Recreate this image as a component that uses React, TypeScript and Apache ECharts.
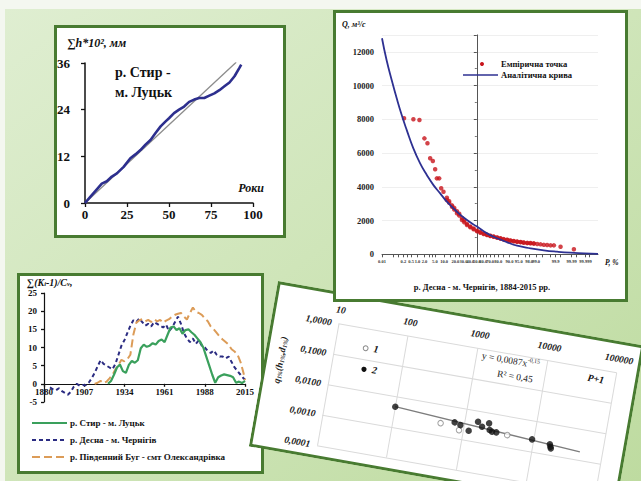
import React, { useEffect, useRef } from "react";
import * as echarts from "echarts";

const SERIF = "'Liberation Serif', 'Times New Roman', serif";
const BORDER = "#487b31";

// ---------- Top-left panel: cumulative runoff, р. Стир - м. Луцьк ----------
const TL_YEARS = [0, 3, 6, 10, 13, 16, 19, 23, 27, 30, 33, 36, 39, 42, 45, 48, 50, 53, 56, 59, 62, 65, 68, 71, 74, 77, 80, 83, 86, 89, 92, 93];
const TL_SUM = [0, 1.5, 3.0, 5.0, 5.6, 6.8, 7.6, 9.3, 11.5, 12.5, 13.6, 15.0, 16.2, 18.0, 19.7, 21.0, 21.8, 23.1, 24.0, 24.8, 26.0, 26.6, 27.0, 27.0, 27.6, 28.2, 29.0, 30.0, 31.0, 32.6, 34.8, 35.6];
const TL_TREND_X = [0, 90];
const TL_TREND_Y = [0, 36.2];

// ---------- Bottom-left panel: difference integral curves ----------
const STYR_YEARS = [1923, 1925, 1927, 1929, 1931, 1933, 1935, 1937, 1939, 1941, 1943, 1945, 1947, 1949, 1951, 1953, 1955, 1957, 1959, 1961, 1963, 1965, 1967, 1969, 1971, 1973, 1975, 1977, 1979, 1981, 1983, 1985, 1987, 1989, 1991, 1993, 1995, 1997, 1999, 2001, 2003, 2005, 2007, 2009, 2011, 2013, 2015];
const STYR_VALUES = [0, 0.8, 2.5, 4.5, 5.3, 3.5, 3.0, 5.2, 6.3, 5.8, 6.5, 9.8, 10.8, 10.2, 10.5, 11.2, 10.8, 11.8, 12.2, 11.5, 13.5, 15.5, 15.8, 14.8, 15.3, 13.8, 14.8, 15.0, 14.2, 13.5, 12.5, 11.5, 10.0, 7.5, 5.0, 2.5, 0.3, 1.8, 2.3, 2.6, 2.4, 2.2, 1.8, 0.3, 0.6, 0.2, 0.8];
const DESNA_YEARS = [1884, 1886, 1888, 1890, 1892, 1894, 1896, 1898, 1900, 1902, 1904, 1906, 1908, 1910, 1912, 1914, 1916, 1918, 1920, 1922, 1924, 1926, 1928, 1930, 1932, 1934, 1936, 1938, 1940, 1942, 1944, 1946, 1948, 1950, 1952, 1954, 1956, 1958, 1960, 1962, 1964, 1966, 1968, 1970, 1972, 1974, 1976, 1978, 1980, 1982, 1984, 1986, 1988, 1990, 1992, 1994, 1996, 1998, 2000, 2002, 2004, 2006, 2008, 2010, 2012, 2014, 2015];
const DESNA_VALUES = [-1.0, -1.5, -1.8, -1.2, -2.0, -2.5, -3.0, -2.2, -0.8, 0.0, -0.5, -0.3, -0.4, 0.3, 1.5, 3.0, 4.8, 6.5, 5.5, 5.0, 4.5, 4.0, 5.5, 8.0, 10.5, 12.0, 14.0, 16.0, 17.5, 17.0, 18.0, 17.0, 16.0, 16.5, 15.8, 17.0, 16.5, 16.0, 15.5, 16.3, 14.5, 15.5, 17.0, 18.5, 16.5, 14.0, 12.5, 11.5, 12.5, 11.0, 12.0, 10.5, 10.0, 9.0, 8.5, 9.2, 8.0, 7.5, 7.5, 7.0, 7.5, 6.0, 4.5, 3.5, 2.5, 1.5, 1.2];
const BUG_YEARS = [1914, 1916, 1918, 1920, 1922, 1924, 1926, 1928, 1930, 1932, 1934, 1936, 1938, 1940, 1942, 1944, 1946, 1948, 1950, 1952, 1954, 1956, 1958, 1960, 1962, 1964, 1966, 1968, 1970, 1972, 1974, 1976, 1978, 1980, 1982, 1984, 1986, 1988, 1990, 1992, 1994, 1996, 1998, 2000, 2002, 2004, 2006, 2008, 2010, 2012, 2014, 2015];
const BUG_VALUES = [0.0, 0.3, 0.8, 0.2, 0.6, 1.5, 2.5, 4.0, 5.2, 6.6, 6.2, 6.8, 8.0, 13.5, 16.8, 17.5, 17.8, 17.2, 17.6, 17.0, 17.8, 17.2, 17.6, 16.8, 17.4, 17.8, 18.5, 19.0, 19.3, 19.5, 18.5, 17.7, 19.5, 21.0, 19.8, 19.5, 19.0, 18.0, 17.2, 15.8, 15.0, 14.0, 13.0, 12.2, 11.5, 10.8, 9.5, 8.9, 8.0, 6.0, 3.0, 1.0];
const BL_NAMES = ["р. Стир - м. Луцьк", "р. Десна - м. Чернігів", "р. Південний Буг - смт Олександрівка"];
const BL_COLORS = ["#3aa05c", "#2b2c82", "#dc9c58"];

// ---------- Rotated panel: q1% vs P+1 (log-log) ----------
const Q_FILLED_X = [99, 728, 889, 1197, 1538, 1799, 2213, 2339, 2552, 2938, 9640, 17500, 18100, 18500];
const Q_FILLED_Y = [0.0047, 0.00321, 0.00283, 0.00207, 0.00453, 0.00331, 0.00467, 0.00287, 0.00262, 0.00264, 0.00251, 0.00222, 0.00185, 0.00165];
const Q_OPEN_X = [466, 875, 4230];
const Q_OPEN_Y = [0.00253, 0.00192, 0.00249];
const Q_FIT_X = [99, 47900];
const Q_FIT_Y = [0.0047, 0.00187];

// ---------- Top-right panel: Desna exceedance curve ----------
const EMP_P = [0.216, 0.642, 1.22, 1.99, 2.64, 3.36, 4.23, 5.11, 5.86, 6.99, 8.11, 9.56,
  12.0, 12.0, 13.9, 13.9, 16.5, 16.5, 18.8, 18.8, 21.8, 21.8, 24.5, 24.5, 28.0, 28.0, 31.1, 31.1, 35.0, 35.0, 39.9, 39.9,
  45.0, 45.0, 50.3, 50.3, 55.5, 55.5, 60.6, 60.6, 65.6, 65.6, 70.2, 70.2, 74.6, 74.6, 78.7, 78.7, 82.3, 82.3, 85.4, 85.4,
  88.3, 88.3, 90.6, 90.6, 92.6, 92.6, 94.3, 94.3, 95.7, 95.7, 96.7, 96.7, 97.6, 97.6, 98.24, 98.24, 98.73, 98.73,
  99.11, 99.38, 99.57, 99.71, 99.81, 99.875, 99.949, 99.993];
const EMP_Q = [8060, 8000, 7960, 6870, 6580, 5690, 5530, 5040, 4500, 4500, 3910, 3710,
  3220, 3350, 3050, 3150, 2820, 2900, 2650, 2750, 2430, 2550, 2300, 2400, 2030, 2150, 1900, 2000, 1740, 1800, 1600, 1650,
  1480, 1530, 1360, 1400, 1280, 1320, 1200, 1230, 1140, 1160, 1080, 1100, 1040, 1050, 980, 1000, 930, 950, 880, 900,
  850, 860, 800, 820, 770, 790, 740, 750, 720, 730, 690, 700, 660, 680, 650, 670, 630, 650,
  610, 590, 560, 550, 530, 530, 450, 300];
const CURVE_P = [0.01, 0.02, 0.042, 0.084, 0.161, 0.30, 0.64, 1.31, 2.49, 4.45, 7.54, 12.0, 21.8, 35.0, 50.3, 65.6, 78.7, 88.3, 94.3, 98.24, 99.57, 99.92, 99.988, 99.9987, 99.9999];
const CURVE_Q = [12800, 11510, 10330, 9240, 8250, 7360, 6280, 5390, 4700, 4100, 3610, 3120, 2520, 2030, 1640, 1240, 950, 710, 510, 355, 237, 154, 95, 59, 20];
const PROB_LABELS = [0.01, 0.2, 0.5, 1, 2, 5, 10, 20, 30, 40, 50, 60, 70, 80, 90, 95, 98, 99, 99.9, 99.99, 99.999];
const PROB_LABEL_TEXT = ["0.01", "0.2", "0.5", "1.0", "2.0", "5.0", "10.0", "20.0", "30.0", "40.0", "50.0", "60.0", "70.0", "80.0", "90.0", "95.0", "98.0", "99.0", "99.9", "99.99", "99.999"];
const PROB_MINOR = [0.05, 0.1, 0.3, 3, 4, 15, 25, 35, 45, 55, 65, 75, 85, 97, 99.5, 99.8, 99.95, 99.995, 99.9995];
const P_MIN = 0.01;
const P_MAX = 99.9999;

// inverse standard normal CDF (probability-paper axis transform)
function probit(p: number): number {
  const a = [-39.69683028665376, 220.9460984245205, -275.9285104469687, 138.357751867269, -30.66479806614716, 2.506628277459239];
  const b = [-54.47609879822406, 161.5858368580409, -155.6989798598866, 66.80131188771972, -13.28068155288572];
  const c = [-0.007784894002430293, -0.3223964580411365, -2.400758277161838, -2.549732539343734, 4.374664141464968, 2.938163982698783];
  const d = [0.007784695709041462, 0.3224671290700398, 2.445134137142996, 3.754408661907416];
  const pl = 0.02425;
  if (p < pl) {
    const q = Math.sqrt(-2 * Math.log(p));
    return (((((c[0] * q + c[1]) * q + c[2]) * q + c[3]) * q + c[4]) * q + c[5]) / ((((d[0] * q + d[1]) * q + d[2]) * q + d[3]) * q + 1);
  }
  if (p <= 1 - pl) {
    const q = p - 0.5;
    const r = q * q;
    return ((((((a[0] * r + a[1]) * r + a[2]) * r + a[3]) * r + a[4]) * r + a[5]) * q) / (((((b[0] * r + b[1]) * r + b[2]) * r + b[3]) * r + b[4]) * r + 1);
  }
  const q = Math.sqrt(-2 * Math.log(1 - p));
  return -(((((c[0] * q + c[1]) * q + c[2]) * q + c[3]) * q + c[4]) * q + c[5]) / ((((d[0] * q + d[1]) * q + d[2]) * q + d[3]) * q + 1);
}
const toZ = (pct: number) => probit(pct / 100);

const zip = (xs: number[], ys: number[]) => xs.map((x, i) => [x, ys[i]]);

function txt(x: number, y: number, text: string, o: any = {}, extra: any = {}) {
  return {
    type: "text",
    x,
    y,
    z: 20,
    ...extra,
    style: {
      text,
      fill: "#111",
      fontFamily: SERIF,
      fontSize: 10,
      fontWeight: "bold",
      align: "left",
      verticalAlign: "middle",
      ...o,
    },
  };
}

function optionA(): any {
  const axisLine = { show: true, onZero: false, lineStyle: { color: "#111", width: 1.5 } };
  const tick = { show: true, length: 4, lineStyle: { color: "#111", width: 1.3 } };
  return {
    animation: false,
    graphic: [
      { type: "rect", z: -30, shape: { x: 0, y: 0, width: 641, height: 481 }, style: { fill: "#f4f7f0" } },
      {
        type: "rect",
        z: -29,
        shape: { x: 5, y: 9, width: 636, height: 472 },
        style: {
          fill: new echarts.graphic.LinearGradient(0, 0, 1, 1, [
            { offset: 0, color: "#dfeed1" },
            { offset: 0.5, color: "#cfe5b9" },
            { offset: 1, color: "#bedba0" },
          ]),
        },
      },
      { type: "rect", z: -20, shape: { x: 55.5, y: 26.5, width: 229, height: 210 }, style: { fill: "#ffffff", stroke: BORDER, lineWidth: 3 } },
      { type: "rect", z: -20, shape: { x: 18.5, y: 274.5, width: 244, height: 198 }, style: { fill: "#ffffff", stroke: BORDER, lineWidth: 3 } },
      txt(67, 43, "∑h*10², мм", { fontSize: 12, fontStyle: "italic" }),
      txt(115, 72, "р. Стир -", { fontSize: 14 }),
      txt(115, 92, "м. Луцьк", { fontSize: 14 }),
      txt(264, 188, "Роки", { fontSize: 12, fontStyle: "italic", align: "right" }),
      txt(27, 281, "{a|∑(K}{s|i}{a|-1)/C}{s|v}{a|,}", {
        rich: {
          a: { fontFamily: SERIF, fontSize: 10, fontWeight: "bold", fontStyle: "italic", lineHeight: 12, verticalAlign: "bottom", fill: "#111" },
          s: { fontFamily: SERIF, fontSize: 6.5, fontWeight: "bold", fontStyle: "italic", lineHeight: 7, verticalAlign: "bottom", fill: "#111" },
        },
      }),
      ...BL_NAMES.flatMap((name, i) => {
        const y = 423 + i * 17;
        const dash = i === 0 ? undefined : i === 1 ? [4, 3] : [8, 4];
        return [
          { type: "line", z: 20, shape: { x1: 32, y1: y, x2: 67, y2: y }, style: { stroke: BL_COLORS[i], lineWidth: 2, lineDash: dash } },
          txt(70, y, name, { fontSize: 9 }),
        ];
      }),
    ],
    grid: [
      { left: 85, top: 63, width: 168, height: 140, show: false },
      { left: 44, top: 293, width: 201, height: 109, show: false },
    ],
    xAxis: [
      {
        gridIndex: 0, type: "value", min: 0, max: 100, interval: 25,
        axisLine, axisTick: tick, splitLine: { show: false },
        axisLabel: { fontFamily: SERIF, fontWeight: "bold", fontSize: 13, color: "#111", margin: 5, formatter: (v: number) => String(v) },
      },
      {
        gridIndex: 1, type: "value", min: 1880, max: 2015, interval: 27, offset: -18.2,
        axisLine: { ...axisLine, lineStyle: { color: "#111", width: 1.2 } }, axisTick: { ...tick, length: 3 }, splitLine: { show: false },
        axisLabel: { fontFamily: SERIF, fontWeight: "bold", fontSize: 9, color: "#111", margin: 4, formatter: (v: number) => String(v) },
      },
    ],
    yAxis: [
      {
        gridIndex: 0, type: "value", min: 0, max: 36, interval: 12,
        axisLine, axisTick: tick, splitLine: { show: false },
        axisLabel: { fontFamily: SERIF, fontWeight: "bold", fontSize: 13, color: "#111", margin: 15 },
      },
      {
        gridIndex: 1, type: "value", min: -5, max: 25, interval: 5,
        axisLine: { ...axisLine, lineStyle: { color: "#111", width: 1.2 } }, axisTick: { ...tick, length: 3 }, splitLine: { show: false },
        axisLabel: { fontFamily: SERIF, fontWeight: "bold", fontSize: 9, color: "#111", margin: 7 },
      },
    ],
    series: [
      { type: "line", xAxisIndex: 0, yAxisIndex: 0, data: zip(TL_TREND_X, TL_TREND_Y), symbol: "none", lineStyle: { color: "#8c8c8c", width: 1.3 } },
      { type: "line", xAxisIndex: 0, yAxisIndex: 0, data: zip(TL_YEARS, TL_SUM), symbol: "none", lineStyle: { color: "#2d2f8e", width: 2.6 } },
      { type: "line", name: BL_NAMES[1], xAxisIndex: 1, yAxisIndex: 1, data: zip(DESNA_YEARS, DESNA_VALUES), symbol: "none", lineStyle: { color: BL_COLORS[1], width: 2, type: [4, 3] } },
      { type: "line", name: BL_NAMES[2], xAxisIndex: 1, yAxisIndex: 1, data: zip(BUG_YEARS, BUG_VALUES), symbol: "none", lineStyle: { color: BL_COLORS[2], width: 2, type: [8, 4] } },
      { type: "line", name: BL_NAMES[0], xAxisIndex: 1, yAxisIndex: 1, data: zip(STYR_YEARS, STYR_VALUES), symbol: "none", lineStyle: { color: BL_COLORS[0], width: 2.2 } },
    ],
  };
}

const B_W = 372;
const B_H = 168;

function optionB(): any {
  const label = { fontFamily: SERIF, fontWeight: "bold", fontStyle: "italic", fontSize: 9.5, color: "#222" };
  const split = { show: true, lineStyle: { color: "#dadada", width: 1 } };
  return {
    animation: false,
    graphic: [
      { type: "rect", z: -20, shape: { x: 1.5, y: 1.5, width: B_W - 3, height: B_H - 3 }, style: { fill: "#ffffff", stroke: BORDER, lineWidth: 3 } },
      { type: "circle", z: 20, shape: { cx: 98, cy: 51, r: 2.4 }, style: { fill: "#fff", stroke: "#8a8a8a", lineWidth: 1 } },
      txt(106, 50, "1", { fontSize: 10, fontStyle: "italic" }),
      { type: "circle", z: 20, shape: { cx: 100, cy: 72, r: 2.6 }, style: { fill: "#111" } },
      txt(108, 71, "2", { fontSize: 10, fontStyle: "italic" }),
      txt(243, 37, "{n|y = 0,0087x}{p|-0,15}", {
        align: "center",
        rich: {
          n: { fontFamily: SERIF, fontSize: 9.5, fontWeight: "normal", lineHeight: 12, verticalAlign: "bottom", fill: "#222" },
          p: { fontFamily: SERIF, fontSize: 6, fontWeight: "normal", lineHeight: 6, verticalAlign: "top", fill: "#222" },
        },
      }),
      txt(250, 53, "R² = 0,45", { fontSize: 9.5, fontWeight: "normal", align: "center", fill: "#222" }),
      txt(330, 41, "P+1", { fontSize: 10, fontStyle: "italic", align: "center" }),
    ],
    grid: { left: 67, top: 31.7, width: 282.5, height: 123.3, show: false },
    xAxis: {
      type: "log", logBase: 10, min: 10, max: 100000, position: "top",
      axisLine: { show: false }, axisTick: { show: false }, splitLine: split,
      axisLabel: { ...label, margin: 9, formatter: (v: number) => String(Math.round(v)) },
    },
    yAxis: {
      type: "log", logBase: 10, min: 0.0001, max: 1,
      name: "{b|q}{s|1%}{b|(h}{s|1%}{b|,d}{s|1%}{b|)}",
      nameLocation: "middle",
      nameRotate: 90,
      nameGap: 46,
      nameTextStyle: {
        padding: [0, 0, 0, 32],
        rich: {
          b: { fontFamily: SERIF, fontSize: 9.5, fontWeight: "bold", fontStyle: "italic", lineHeight: 12, verticalAlign: "bottom", color: "#222" },
          s: { fontFamily: SERIF, fontSize: 6, fontWeight: "bold", fontStyle: "italic", lineHeight: 7, verticalAlign: "bottom", color: "#222" },
        },
      },
      axisLine: { show: false }, axisTick: { show: false }, splitLine: split,
      axisLabel: { ...label, margin: 7, formatter: (v: number) => v.toFixed(4).replace(".", ",") },
    },
    series: [
      { type: "line", data: zip(Q_FIT_X, Q_FIT_Y), symbol: "none", lineStyle: { color: "#7d7d7d", width: 1.3 }, z: 2 },
      { type: "scatter", data: zip(Q_OPEN_X, Q_OPEN_Y), symbol: "circle", symbolSize: 5.5, itemStyle: { color: "#fff", borderColor: "#8a8a8a", borderWidth: 1 }, z: 3 },
      { type: "scatter", data: zip(Q_FILLED_X, Q_FILLED_Y), symbol: "circle", symbolSize: 6.5, itemStyle: { color: "#111" }, z: 4 },
    ],
  };
}

const C_W = 295;
const C_H = 292;

function optionC(): any {
  const labelZ = PROB_LABELS.map(toZ);
  const tickZ = [...PROB_LABELS, ...PROB_MINOR].map(toZ);
  return {
    animation: false,
    graphic: [
      { type: "rect", z: -20, shape: { x: 1.5, y: 1.5, width: C_W - 3, height: C_H - 3 }, style: { fill: "#ffffff", stroke: BORDER, lineWidth: 3 } },
      txt(9, 14, "Q, м³/с", { fontSize: 8, fontStyle: "italic" }),
      txt(272, 252, "P, %", { fontSize: 7.5, fontStyle: "italic" }),
      txt(149, 277, "р. Десна - м. Чернігів, 1884-2015 рр.", { fontSize: 8.5, align: "center" }),
      { type: "circle", z: 20, shape: { cx: 149, cy: 54, r: 2 }, style: { fill: "#c8141c" } },
      txt(168, 54, "Емпірична точка", { fontSize: 8.5 }),
      { type: "line", z: 20, shape: { x1: 130, y1: 65, x2: 165, y2: 65 }, style: { stroke: "#2e3192", lineWidth: 1.6 } },
      txt(168, 65, "Аналітична крива", { fontSize: 8.5 }),
    ],
    grid: { left: 49, top: 24.9, width: 216, height: 219.4, show: false },
    xAxis: {
      type: "value", min: toZ(P_MIN), max: toZ(P_MAX),
      axisLine: { show: true, onZero: false, lineStyle: { color: "#555", width: 1 } },
      axisTick: { show: true, customValues: tickZ, length: 3, lineStyle: { color: "#555" } },
      splitLine: { show: false },
      axisLabel: {
        customValues: labelZ, hideOverlap: false, fontFamily: SERIF, fontWeight: "bold", fontSize: 4.5, color: "#333", margin: 5,
        formatter: (v: number) => {
          let best = 0;
          labelZ.forEach((z, i) => { if (Math.abs(z - v) < Math.abs(labelZ[best] - v)) best = i; });
          return PROB_LABEL_TEXT[best];
        },
      },
    },
    yAxis: {
      type: "value", min: 0, max: 13000, interval: 2000,
      axisLine: { show: true, lineStyle: { color: "#555", width: 1 } },
      axisTick: { show: true, length: 3, lineStyle: { color: "#555" } },
      minorTick: { show: true, splitNumber: 2, length: 2, lineStyle: { color: "#777" } },
      splitLine: { show: true, lineStyle: { color: "#efefef" } },
      axisLabel: { showMaxLabel: false, fontFamily: SERIF, fontWeight: "bold", fontSize: 8.5, color: "#222", margin: 8, formatter: (v: number) => String(v) },
    },
    series: [
      { type: "scatter", data: EMP_P.map((p, i) => [toZ(p), EMP_Q[i]]), symbol: "circle", symbolSize: 4.5, itemStyle: { color: "#c8141c" }, z: 3 },
      { type: "line", data: CURVE_P.map((p, i) => [toZ(p), CURVE_Q[i]]), smooth: true, symbol: "none", lineStyle: { color: "#2e3192", width: 1.8 }, z: 4 },
    ],
  };
}

export default function App() {
  const refA = useRef<HTMLDivElement>(null);
  const refB = useRef<HTMLDivElement>(null);
  const refC = useRef<HTMLDivElement>(null);

  useEffect(() => {
    const a = echarts.init(refA.current!, undefined, { renderer: "svg" });
    const b = echarts.init(refB.current!, undefined, { renderer: "svg" });
    const c = echarts.init(refC.current!, undefined, { renderer: "svg" });
    a.setOption(optionA());
    b.setOption(optionB());
    c.setOption(optionC());
    return () => {
      a.dispose();
      b.dispose();
      c.dispose();
    };
  }, []);

  return (
    <div style={{ position: "fixed", left: 0, top: 0, width: 641, height: 481, overflow: "hidden", background: "#fff" }}>
      <div ref={refA} style={{ position: "absolute", left: 0, top: 0, width: 641, height: 481 }} />
      <div style={{ position: "absolute", left: 278, top: 281, width: B_W, height: B_H, transform: "rotate(10deg)", transformOrigin: "0 0" }}>
        <div ref={refB} style={{ width: B_W, height: B_H }} />
      </div>
      <div ref={refC} style={{ position: "absolute", left: 333, top: 10, width: C_W, height: C_H }} />
    </div>
  );
}
